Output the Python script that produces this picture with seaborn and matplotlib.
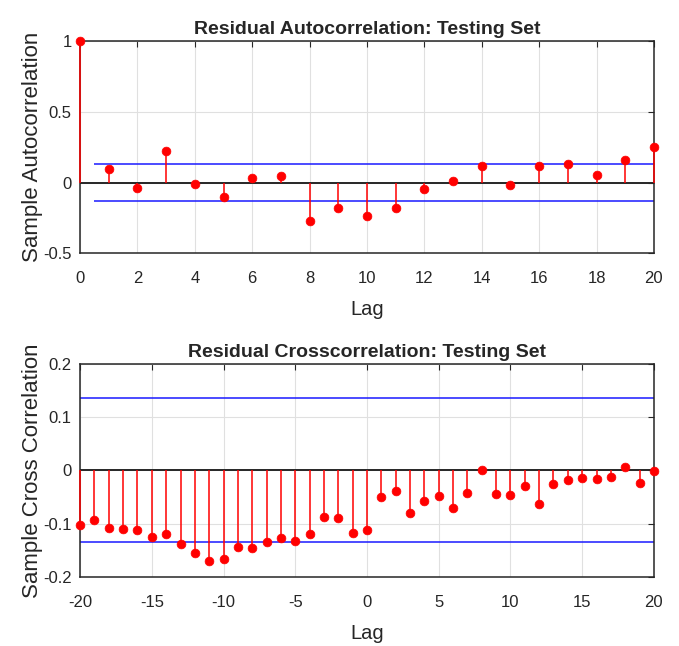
import numpy as np
import pandas as pd
import matplotlib
matplotlib.use("Agg")
import matplotlib.pyplot as plt
from matplotlib import font_manager
import seaborn as sns

# --- data ---
acf_lags = list(range(0, 21))
acf_vals = [1.0, 0.093, -0.037, 0.224, -0.009, -0.103, 0.030, 0.049, -0.270,
            -0.182, -0.233, -0.177, -0.047, 0.012, 0.117, -0.019, 0.117,
            0.135, 0.054, 0.159, 0.249]
acf_bound = 0.13

xcf_lags = list(range(-20, 21))
xcf_vals = [-0.102, -0.094, -0.108, -0.110, -0.112, -0.125, -0.119, -0.139,
            -0.156, -0.171, -0.167, -0.144, -0.145, -0.135, -0.127, -0.132,
            -0.120, -0.088, -0.089, -0.117, -0.112,
            -0.050, -0.038, -0.080, -0.057, -0.049, -0.071, -0.042, 0.000,
            -0.044, -0.046, -0.030, -0.063, -0.025, -0.018, -0.014, -0.016,
            -0.013, 0.006, -0.023, -0.001]
xcf_bound = 0.135

sns.set_style("whitegrid")

# the reference text is narrow (MATLAB export); use a narrow face if present
names = {f.name for f in font_manager.fontManager.ttflist}
if "Liberation Sans Narrow" in names:
    FAM = ["Liberation Sans Narrow", "DejaVu Sans"]
    SZ_TICK, SZ_XLAB, SZ_YLAB, SZ_TITLE = 14, 16.5, 19, 15.5
elif "DejaVu Sans Condensed" in names:
    FAM = ["DejaVu Sans Condensed", "DejaVu Sans"]
    SZ_TICK, SZ_XLAB, SZ_YLAB, SZ_TITLE = 12, 14.5, 16, 13
else:
    FAM = ["Liberation Sans", "DejaVu Sans"]
    SZ_TICK, SZ_XLAB, SZ_YLAB, SZ_TITLE = 12, 14.5, 16, 14
plt.rcParams["font.family"] = FAM

TXT = "#262626"


def stem_panel(ax, lags, vals, bound, bound_x, xlim, ylim, xticks, yticks,
               title, ylabel):
    df = pd.DataFrame({"lag": lags, "val": vals})
    ax.vlines(df["lag"], 0, df["val"], color="red", lw=1.1, zorder=3,
              clip_on=False)
    sns.scatterplot(data=df, x="lag", y="val", ax=ax, color="red", s=40,
                    edgecolor="red", linewidth=0.5, zorder=4, legend=False,
                    clip_on=False)
    ax.axhline(0, color="#262626", lw=1.4, zorder=2)
    ax.hlines([bound, -bound], bound_x[0], bound_x[1], color="#1a1aff",
              lw=1.1, zorder=2)
    ax.set_xlim(*xlim)
    ax.set_ylim(*ylim)
    ax.set_xticks(xticks)
    ax.set_yticks(yticks)
    ax.set_xticklabels([f"{t:g}" for t in xticks])
    ax.set_yticklabels([f"{t:g}" for t in yticks])
    ax.grid(True, color="#e0e0e0", lw=0.8)
    for s in ax.spines.values():
        s.set_color("#262626")
        s.set_linewidth(1.1)
    ax.tick_params(direction="in", length=4, top=True, right=True,
                   labelsize=SZ_TICK, colors="#262626", labelcolor=TXT)
    ax.tick_params(axis="x", pad=13)
    ax.tick_params(axis="y", pad=6)
    ax.set_title(title, fontsize=SZ_TITLE, fontweight="bold", pad=5)
    ax.set_xlabel("Lag", fontsize=SZ_XLAB, color=TXT, labelpad=10)
    ax.set_ylabel(ylabel, fontsize=SZ_YLAB, color=TXT, labelpad=0)


fig = plt.figure(figsize=(6.79, 6.46), dpi=100)
ax1 = fig.add_axes([0.118, 0.608, 0.845, 0.328])
ax2 = fig.add_axes([0.118, 0.107, 0.845, 0.330])

stem_panel(ax1, acf_lags, acf_vals, acf_bound, (0.5, 20), (0, 20), (-0.5, 1),
           list(range(0, 21, 2)), [-0.5, 0, 0.5, 1],
           "Residual Autocorrelation: Testing Set", "Sample Autocorrelation")
stem_panel(ax2, xcf_lags, xcf_vals, xcf_bound, (-20, 20), (-20, 20),
           (-0.2, 0.2), list(range(-20, 21, 5)),
           [-0.2, -0.1, 0, 0.1, 0.2],
           "Residual Crosscorrelation: Testing Set", "Sample Cross Correlation")

fig.savefig("out.png", dpi=100)
